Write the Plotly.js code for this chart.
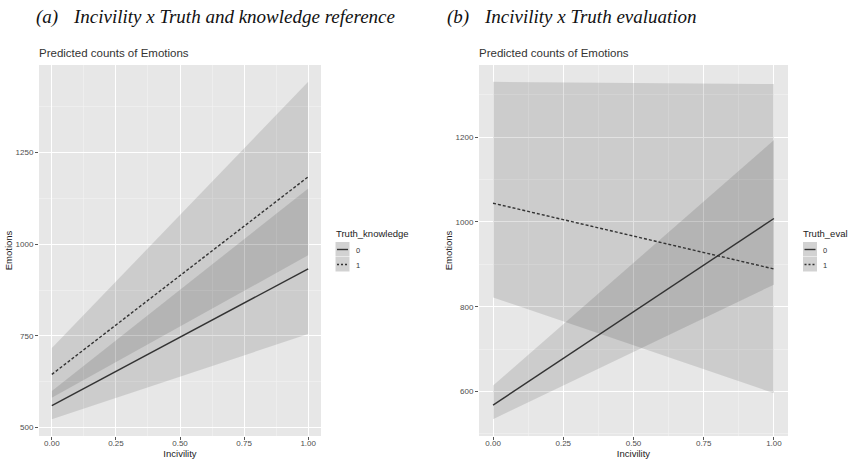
<!DOCTYPE html>
<html>
<head>
<meta charset="utf-8">
<script src="https://cdn.plot.ly/plotly-3.0.1.min.js"></script>
<style>html,body{margin:0;padding:0;background:#fff;}#chart{width:849px;height:460px;}</style>
</head>
<body>
<div id="chart"></div>
<script>
// ---- data ----
const incivility = [0, 1];
const xTickVals = [0, 0.25, 0.5, 0.75, 1];
const xTickText = ['0.00', '0.25', '0.50', '0.75', '1.00'];
const groupLabels = ['0', '1'];

// panel (a): Incivility x Truth_knowledge
const aFit0 = [560, 933];
const aLow0 = [523, 755];
const aUpp0 = [600, 1152];
const aFit1 = [645, 1184];
const aLow1 = [581, 970];
const aUpp1 = [717, 1443];
const aYTicks = [500, 750, 1000, 1250];

// panel (b): Incivility x Truth_eval
const bFit0 = [568, 1008];
const bLow0 = [535, 852];
const bUpp0 = [614, 1193];
const bFit1 = [1044, 889];
const bLow1 = [822, 596];
const bUpp1 = [1330, 1325];
const bYTicks = [600, 800, 1000, 1200];

const captionA = ['(a)', 'Incivility x Truth and knowledge reference'];
const captionB = ['(b)', 'Incivility x Truth evaluation'];
const plotTitle = 'Predicted counts of Emotions';
const legendTitles = ['Truth_knowledge', 'Truth_eval'];

// ---- helpers ----
const W = 849, H = 460;
const ML = 39, MR = 61, MT = 65, MB = 24;
const PW = W - ML - MR, PH = H - MT - MB;
const px = v => (v - ML) / PW;
const py = v => (H - MB - v) / PH;

const ribbonFill = 'rgba(0,0,0,0.115)';
const lineCol = '#333333';

function ribbon(x, lo, up, xa, ya) {
  return {
    x: x.concat(x.slice().reverse()),
    y: lo.concat(up.slice().reverse()),
    xaxis: xa, yaxis: ya, type: 'scatter', mode: 'lines',
    fill: 'toself', fillcolor: ribbonFill, line: {width: 0},
    hoverinfo: 'skip', showlegend: false
  };
}
function line(x, y, dash, xa, ya) {
  return {
    x: x, y: y, xaxis: xa, yaxis: ya, type: 'scatter', mode: 'lines',
    line: {color: lineCol, width: 1.4, dash: dash}, showlegend: false
  };
}
function range(arrs) {
  const all = [].concat(...arrs);
  const mn = Math.min(...all), mx = Math.max(...all);
  const pad = (mx - mn) * 0.05;
  return [mn - pad, mx + pad];
}

const traces = [
  ribbon(incivility, aLow0, aUpp0, 'x', 'y'),
  ribbon(incivility, aLow1, aUpp1, 'x', 'y'),
  line(incivility, aFit0, 'solid', 'x', 'y'),
  line(incivility, aFit1, '3px,2px', 'x', 'y'),
  ribbon(incivility, bLow0, bUpp0, 'x2', 'y2'),
  ribbon(incivility, bLow1, bUpp1, 'x2', 'y2'),
  line(incivility, bFit0, 'solid', 'x2', 'y2'),
  line(incivility, bFit1, '3px,2px', 'x2', 'y2')
];

const tickFont = {family: 'Liberation Sans, Arial, sans-serif', size: 8, color: '#4D4D4D'};
const titleFont = {family: 'Liberation Sans, Arial, sans-serif', size: 9.5, color: '#222222'};

function xAxis(domain, anchor) {
  return {
    domain: domain, anchor: anchor, range: [-0.05, 1.05],
    tickvals: xTickVals, ticktext: xTickText, tickfont: tickFont,
    ticks: 'outside', ticklen: 3, tickcolor: '#555', tickwidth: 1,
    ticklabelstandoff: -4,
    showgrid: true, gridcolor: '#FFFFFF', gridwidth: 1,
    minor: {dtick: 0.125, tick0: 0, showgrid: true, gridcolor: '#F3F3F3', gridwidth: 0.6},
    zeroline: false, showline: false, fixedrange: true,
    title: {text: 'Incivility', font: titleFont, standoff: 0}
  };
}
function yAxis(anchor, r, ticks, minorStep, minor0) {
  return {
    domain: [0, 1], anchor: anchor, range: r,
    tickvals: ticks, tickfont: tickFont,
    ticks: 'outside', ticklen: 3, tickcolor: '#555', tickwidth: 1,
    showgrid: true, gridcolor: '#FFFFFF', gridwidth: 1,
    minor: {dtick: minorStep, tick0: minor0, showgrid: true, gridcolor: '#F3F3F3', gridwidth: 0.6},
    zeroline: false, showline: false, fixedrange: true,
    title: {text: 'Emotions', font: titleFont, standoff: 1}
  };
}

const annotations = [];
const shapes = [];
const capFont = {family: 'Liberation Serif, Times New Roman, serif', size: 19, color: '#111'};
function addCaption(cap, x1, x2) {
  annotations.push({xref: 'paper', yref: 'paper', x: px(x1), y: py(17), text: '<i>' + cap[0] + '</i>',
    showarrow: false, xanchor: 'left', yanchor: 'middle', font: capFont});
  annotations.push({xref: 'paper', yref: 'paper', x: px(x2), y: py(17), text: '<i>' + cap[1] + '</i>',
    showarrow: false, xanchor: 'left', yanchor: 'middle', font: capFont});
}
addCaption(captionA, 34, 71);
addCaption(captionB, 445, 482);

const ptFont = {family: 'Liberation Sans, Arial, sans-serif', size: 11.5, color: '#333333'};
[39, 479].forEach(x => annotations.push({xref: 'paper', yref: 'paper', x: px(x - 2), y: py(53),
  text: plotTitle, showarrow: false, xanchor: 'left', yanchor: 'middle', font: ptFont}));

function addLegend(title, kx, labX) {
  annotations.push({xref: 'paper', yref: 'paper', x: px(kx - 2), y: py(233), text: title,
    showarrow: false, xanchor: 'left', yanchor: 'middle',
    font: {family: 'Liberation Sans, Arial, sans-serif', size: 9.5, color: '#222'}});
  const keyTop = [242, 257];
  groupLabels.forEach((lab, i) => {
    shapes.push({type: 'rect', xref: 'paper', yref: 'paper', x0: px(kx), x1: px(kx + 14),
      y0: py(keyTop[i]), y1: py(keyTop[i] + 14.5), fillcolor: '#D2D2D2', line: {width: 0}});
    shapes.push({type: 'line', xref: 'paper', yref: 'paper', x0: px(kx + 1.5), x1: px(kx + 12.5),
      y0: py(keyTop[i] + 7.5), y1: py(keyTop[i] + 7.5),
      line: {color: lineCol, width: 1.4, dash: i === 0 ? 'solid' : '2px,2px'}});
    annotations.push({xref: 'paper', yref: 'paper', x: px(labX), y: py(keyTop[i] + 8), text: lab,
      showarrow: false, xanchor: 'left', yanchor: 'middle',
      font: {family: 'Liberation Sans, Arial, sans-serif', size: 7.5, color: '#333'}});
  });
}
addLegend(legendTitles[0], 335.5, 354);
addLegend(legendTitles[1], 803, 821);

const layout = {
  width: W, height: H,
  margin: {l: ML, r: MR, t: MT, b: MB, pad: 0},
  paper_bgcolor: '#FFFFFF', plot_bgcolor: '#E7E7E7',
  showlegend: false,
  xaxis: xAxis([0, px(321)], 'y'),
  yaxis: yAxis('x', range([aLow0, aUpp0, aLow1, aUpp1]), aYTicks, 125, 500),
  xaxis2: xAxis([px(479), 1], 'y2'),
  yaxis2: yAxis('x2', range([bLow0, bUpp0, bLow1, bUpp1]), bYTicks, 100, 600),
  annotations: annotations,
  shapes: shapes
};

Plotly.newPlot('chart', traces, layout, {staticPlot: true, displayModeBar: false});
</script>
</body>
</html>
